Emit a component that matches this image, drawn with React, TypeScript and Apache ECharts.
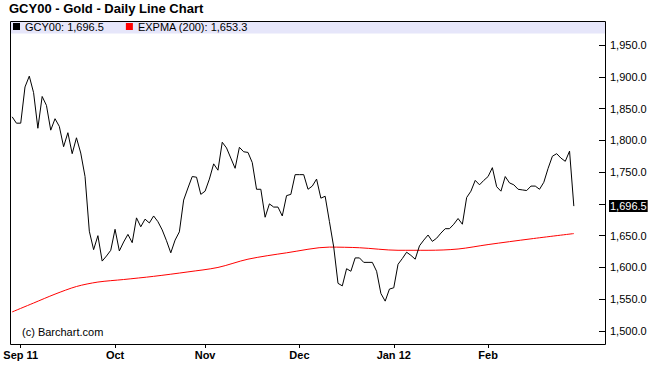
import React, { useEffect, useRef } from "react";
import * as echarts from "echarts";

// ---- data ----
const TITLE = "GCY00 - Gold - Daily Line Chart";
const SYMBOL = "GCY00";
const EMA_NAME = "EXPMA (200)";
const FIRST_DAY = "2011-08-30"; // first trading day shown (weekdays only)
const PAD_DAYS = 7; // empty room at the right of the plot
const monthTickLabels = ["Sep 11", "Oct", "Nov", "Dec", "Jan 12", "Feb"];
const yTicks = { min: 1500, max: 1950, step: 50 };

// daily closes, Aug 30 2011 .. Feb 29 2012
const gold = [
  1837, 1827, 1827, 1884, 1901, 1875, 1819, 1869, 1855, 1816,
  1834, 1822, 1790, 1812, 1779, 1804, 1780, 1743, 1657, 1628,
  1650, 1610, 1618, 1627, 1660, 1626, 1640, 1652, 1639, 1678,
  1664, 1676, 1670, 1681, 1672, 1659, 1642, 1623, 1643, 1656,
  1706, 1725, 1743, 1742, 1715, 1720, 1739, 1763, 1753, 1797,
  1788, 1772, 1756, 1789, 1782, 1781, 1765, 1723, 1723, 1679,
  1700, 1695, 1695, 1681, 1713, 1715, 1746, 1746, 1746, 1723,
  1728, 1739, 1709, 1712, 1672, 1632, 1575, 1571, 1598, 1594,
  1615, 1615, 1608, 1608, 1608, 1594, 1559, 1547, 1566, 1568,
  1605, 1614, 1624, 1619, 1613, 1634, 1643, 1651, 1641, 1646,
  1654, 1661, 1661, 1668, 1677, 1668, 1710, 1720, 1737, 1730,
  1737, 1743, 1757, 1727, 1720, 1743, 1733, 1730, 1723, 1722,
  1721, 1728, 1728, 1723, 1734, 1756, 1775, 1779, 1772, 1767,
  1783, 1696.5,
];

// EXPMA(200) read at a few days (index into the trading days)
const emaIdx = [0, 5, 10, 15, 20, 26, 33, 41, 48, 55, 64, 74, 81, 90, 97, 104, 111, 121, 131];
const emaVal = [1530, 1544, 1558, 1570, 1577, 1581, 1586, 1593, 1600, 1613, 1623, 1632, 1631, 1627, 1627, 1629, 1636, 1645, 1653.3];

const FONT = '"Liberation Sans", Arial, Helvetica, sans-serif';

function fmt(v: number) {
  return v.toLocaleString("en-US", { minimumFractionDigits: 1, maximumFractionDigits: 1 });
}

export default function App() {
  const ref = useRef<HTMLDivElement>(null);

  useEffect(() => {
    document.body.style.margin = "0";
    if (!ref.current) return;
    const chart = echarts.init(ref.current, undefined, { renderer: "svg" });

    // trading days (weekdays)
    const dates: string[] = [];
    let t = Date.parse(FIRST_DAY + "T00:00:00Z");
    while (dates.length < gold.length) {
      const d = new Date(t);
      const wd = d.getUTCDay();
      if (wd !== 0 && wd !== 6) dates.push(d.toISOString().slice(0, 10));
      t += 86400000;
    }
    const cats = dates.slice();
    for (let i = 0; i < PAD_DAYS; i++) cats.push("pad" + i);

    const tickIdx: Record<number, string> = {};
    let k = 0;
    for (let i = 1; i < dates.length; i++) {
      if (dates[i].slice(0, 7) !== dates[i - 1].slice(0, 7)) tickIdx[i] = monthTickLabels[k++];
    }

    const emaData = emaIdx.map((ix, j) => [ix, emaVal[j]]);

    const lastGold = gold[gold.length - 1];
    const lastEma = emaVal[emaVal.length - 1];

    chart.setOption({
      animation: false,
      backgroundColor: "#fff",
      textStyle: { fontFamily: FONT },
      grid: { left: 10, right: 44, top: 45, bottom: 55, containLabel: false },
      legend: {
        left: 13,
        top: 21,
        padding: 0,
        itemWidth: 7,
        itemHeight: 7,
        itemGap: 22,
        icon: "rect",
        selectedMode: false,
        data: [SYMBOL, EMA_NAME],
        formatter: (name: string) =>
          name === SYMBOL ? `${SYMBOL}: ${fmt(lastGold)}` : `${EMA_NAME}: ${fmt(lastEma)}`,
        textStyle: { fontSize: 11, color: "#000", fontFamily: FONT },
      },
      xAxis: {
        type: "category",
        data: cats,
        boundaryGap: true,
        offset: 14,
        axisLine: { show: false },
        axisTick: {
          show: true,
          alignWithLabel: true,
          length: 3,
          interval: (i: number) => i in tickIdx,
          lineStyle: { color: "#000", width: 1 },
        },
        axisLabel: {
          interval: (i: number) => i in tickIdx,
          formatter: (_v: string, i: number) => tickIdx[i] ?? "",
          margin: 4,
          fontSize: 11,
          fontWeight: "bold",
          color: "#000",
          fontFamily: FONT,
        },
        splitLine: { show: false },
      },
      yAxis: {
        type: "value",
        position: "right",
        min: yTicks.min,
        max: yTicks.max,
        interval: yTicks.step,
        axisLine: { show: false },
        axisTick: { show: true, inside: true, length: 7, lineStyle: { color: "#000" } },
        axisLabel: {
          margin: 4,
          fontSize: 11,
          color: "#000",
          fontFamily: FONT,
          formatter: (v: number) => (v === 1700 ? "" : fmt(v)),
        },
        splitLine: { show: false },
      },
      series: [
        {
          name: EMA_NAME,
          type: "line",
          data: emaData,
          smooth: 0.3,
          showSymbol: false,
          symbol: "none",
          color: "#ff0000",
          lineStyle: { color: "#ff0000", width: 1 },
          z: 2,
        },
        {
          name: SYMBOL,
          type: "line",
          data: gold,
          showSymbol: false,
          symbol: "none",
          color: "#000",
          lineStyle: { color: "#000", width: 1 },
          z: 3,
          markLine: {
            silent: true,
            symbol: ["none", "none"],
            lineStyle: { color: "transparent", width: 0 },
            data: [{ yAxis: lastGold }],
            label: {
              show: true,
              position: "end",
              distance: 3,
              formatter: fmt(lastGold),
              color: "#fff",
              backgroundColor: "#000",
              padding: [1, 1, 0, 1],
              fontSize: 11,
              fontFamily: FONT,
            },
          },
        },
      ],
      graphic: [
        {
          type: "rect",
          z: -10,
          shape: { x: 10.5, y: 21.5, width: 595, height: 12 },
          style: { fill: "#E6E6FA", stroke: "none" },
        },
        {
          type: "rect",
          z: 100,
          silent: true,
          shape: { x: 10.5, y: 21.5, width: 595, height: 323 },
          style: { fill: "none", stroke: "#000", lineWidth: 1 },
        },
        {
          type: "text",
          x: 9,
          y: 8.5,
          style: {
            text: TITLE,
            fill: "#000",
            font: `bold 13px ${FONT}`,
            textVerticalAlign: "middle",
            verticalAlign: "middle",
          },
        },
        {
          type: "text",
          x: 22,
          y: 332,
          style: {
            text: "(c) Barchart.com",
            fill: "#000",
            font: `11px ${FONT}`,
            textVerticalAlign: "middle",
            verticalAlign: "middle",
          },
        },
      ],
    });

    return () => chart.dispose();
  }, []);

  return (
    <div
      ref={ref}
      style={{ position: "fixed", left: 0, top: 0, width: 650, height: 386, background: "#fff" }}
    />
  );
}
